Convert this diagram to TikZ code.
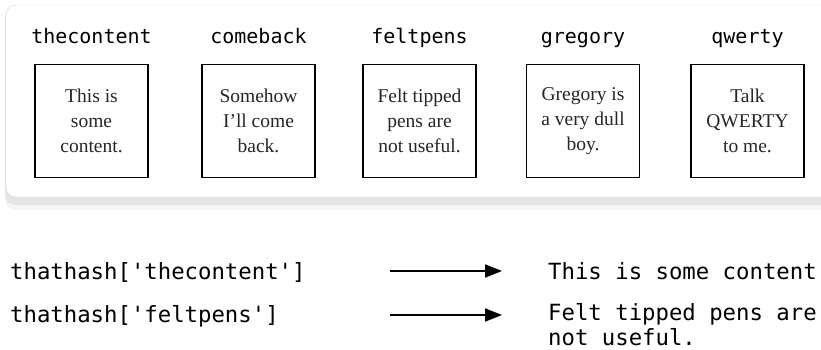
\documentclass[tikz,border=0pt]{standalone}
\usepackage{fontspec}
\setmainfont{Liberation Serif}
\setmonofont{DejaVu Sans Mono}
\usetikzlibrary{arrows.meta}
\tikzset{
  keylabel/.style={anchor=base, inner sep=0pt, font=\ttfamily\fontsize{20}{24}\selectfont},
  keybox/.style={draw, line width=1.6pt, minimum width=113pt, minimum height=113pt, inner sep=0pt, align=center, text=black!85, font=\fontsize{19.5}{25}\selectfont},
  hashline/.style={anchor=base west, inner sep=0pt, align=left, font=\ttfamily\fontsize{22.3}{25}\selectfont},
  lookup/.style={line width=1.8pt, -{Triangle[length=17pt,width=13pt]}}
}

\begin{document}
\begin{tikzpicture}[x=1pt, y=-1pt]
\useasboundingbox (0,0) rectangle (821,350);
\clip (0,0) rectangle (821,350);
\fill[black!4, rounded corners=10pt] (5,10) rectangle (840,210);
\fill[black!10, rounded corners=10pt] (5,7) rectangle (840,205);
\draw[black!14, fill=white, rounded corners=10pt] (6,5) rectangle (840,197);
\foreach \name/\cx/\txt in {thecontent/91.5/{This is\\some\\content.}, comeback/258.5/{Somehow\\I'll come\\back.}, feltpens/419.5/{Felt tipped\\pens are\\not useful.}, gregory/583/{Gregory is\\a very dull\\boy.}, qwerty/747.5/{Talk\\QWERTY\\to me.}} {
  \node[keylabel] (\name) at (\cx,44) {\name};
  \node[keybox] (\name-box) at (\cx,121) {\txt};
}
\node[hashline] (getcontent) at (10,279) {thathash['thecontent']};
\node[hashline] (getfelt) at (10,322) {thathash['feltpens']};
\node[hashline] (contentval) at (548,279) {This is some content};
\node[hashline] (feltval) at (548,345) {Felt tipped pens are\\not useful.};
\coordinate (from1) at (390,271);
\coordinate (to1) at (502,271);
\coordinate (from2) at (390,315);
\coordinate (to2) at (502,315);
\draw[lookup] (from1) -- (to1);
\draw[lookup] (from2) -- (to2);
\end{tikzpicture}
\end{document}
